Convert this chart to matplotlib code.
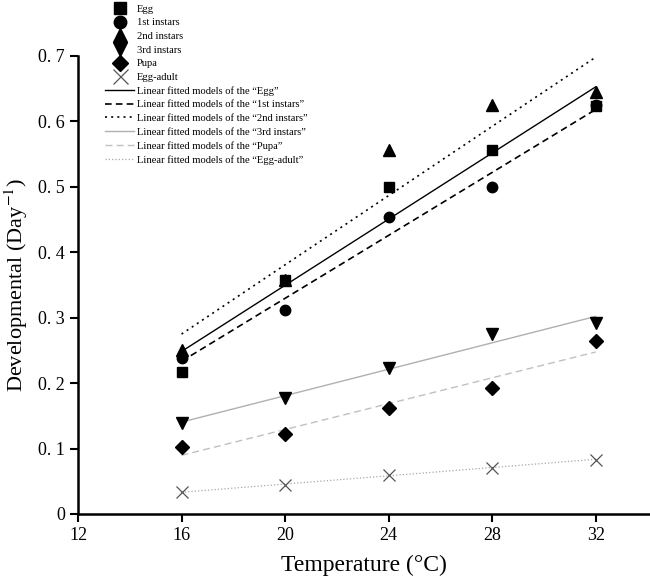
import matplotlib
matplotlib.use("Agg")
import matplotlib.pyplot as plt
import numpy as np

plt.rcParams['font.family'] = ['Liberation Serif', 'DejaVu Serif']
plt.rcParams['mathtext.fontset'] = 'stix'

temps = [16, 20, 24, 28, 32]
stages = ['Egg', '1st instars', '2nd instars', '3rd instars', 'Pupa', 'Egg-adult']
egg = [0.217, 0.357, 0.500, 0.556, 0.623]
inst1 = [0.238, 0.312, 0.454, 0.500, 0.625]
inst2 = [0.250, 0.357, 0.556, 0.625, 0.645]
inst3 = [0.139, 0.177, 0.223, 0.275, 0.292]
pupa = [0.102, 0.122, 0.162, 0.193, 0.264]
egg_adult = [0.033, 0.045, 0.060, 0.071, 0.083]
series = [egg, inst1, inst2, inst3, pupa, egg_adult]
yticks = [0, 0.1, 0.2, 0.3, 0.4, 0.5, 0.6, 0.7]
ytick_labels = ['0', '0. 1', '0. 2', '0. 3', '0. 4', '0. 5', '0. 6', '0. 7']
xticks = [12, 16, 20, 24, 28, 32]

markers = ['s', 'o', '^', 'v', 'D', 'x']
msizes = [7, 7.5, 8, 8, 7, 9]
line_styles = [('-', 'black', 1.0), ((0, (4, 2.5)), 'black', 1.2), ((0, (1.2, 2.5)), 'black', 1.2),
               ('-', '#b0b0b0', 1.0), ((0, (5, 3)), '#c0c0c0', 1.0), (':', '#a8a8a8', 0.9)]


def main():
    fig = plt.figure(figsize=(6.5, 5.87), dpi=100)
    ax = fig.add_axes([0.12, 0.1244, 0.88, 0.7802])

    t = np.array(temps)
    handles_m = []
    handles_l = []
    for i in range(len(series)):
        y = np.array(series[i])
        if markers[i] == 'x':
            h, = ax.plot(t, y, linestyle='none', marker='x', ms=msizes[i], mec='#555555', mew=0.9,
                         label=stages[i], zorder=3)
        else:
            h, = ax.plot(t, y, linestyle='none', marker=markers[i], ms=msizes[i], color='black',
                         label=stages[i], zorder=3)
        handles_m.append(h)
        # linear fit for each stage
        k, b = np.polyfit(t, y, 1)
        ls, c, lw = line_styles[i]
        hl, = ax.plot(t, k * t + b, linestyle=ls, color=c, lw=lw,
                      label='Linear fitted models of the \u201c%s\u201d' % stages[i], zorder=2)
        handles_l.append(hl)

    ax.set_xlim(12, 34.1)
    ax.set_ylim(0, 0.7)
    ax.set_xticks(xticks)
    ax.set_yticks(yticks)
    ax.set_yticklabels(ytick_labels)
    ax.tick_params(direction='out', length=6, width=1.5, labelsize=13)
    ax.spines['top'].set_visible(False)
    ax.spines['right'].set_visible(False)
    ax.spines['left'].set_linewidth(1.8)
    ax.spines['bottom'].set_linewidth(1.8)
    ax.spines['left'].set_bounds(0, 0.7)

    ax.set_xlabel('Temperature (\u00b0C)', fontsize=17, labelpad=8)
    ax.set_ylabel('Developmental (Day$^{-1}$)', fontsize=16, labelpad=6)

    fig.legend(handles_m + handles_l, [h.get_label() for h in handles_m + handles_l],
               loc='upper left', bbox_to_anchor=(0.15, 1.005), frameon=False, fontsize=7.6,
               handlelength=2.8, handletextpad=0.2, labelspacing=0.4, borderpad=0.2,
               markerscale=1.2)

    plt.savefig('out.png', dpi=100)


if __name__ == "__main__":
    main()
